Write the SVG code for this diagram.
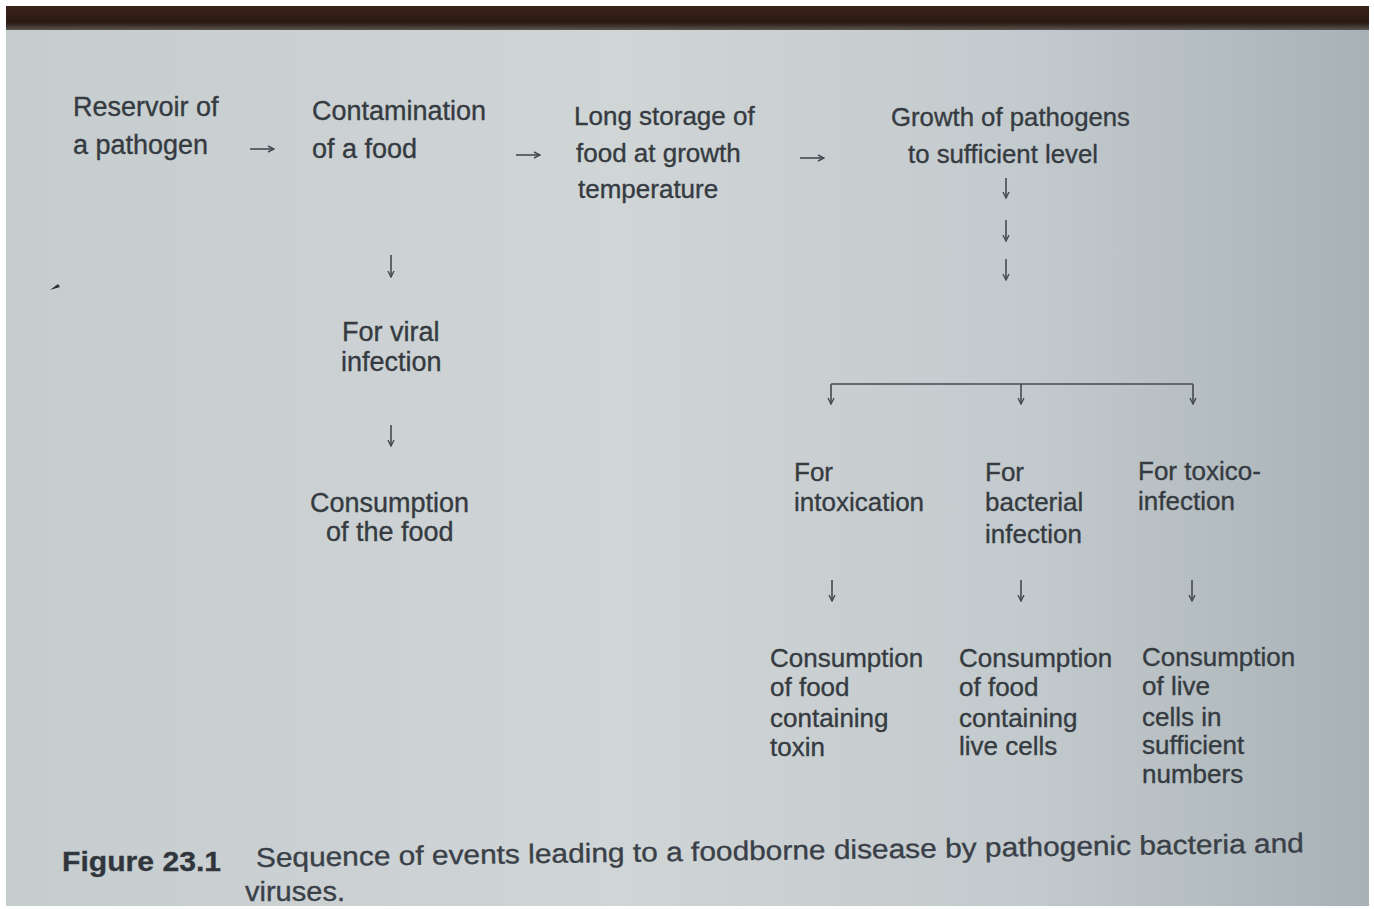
<svg xmlns="http://www.w3.org/2000/svg" width="1374" height="909" viewBox="0 0 1374 909">
<defs>
<linearGradient id="bg" x1="0" y1="0" x2="1" y2="0">
<stop offset="0" stop-color="#c6cdcf"/>
<stop offset="0.45" stop-color="#d0d5d6"/>
<stop offset="0.75" stop-color="#c3cacd"/>
<stop offset="1" stop-color="#a8b2b6"/>
</linearGradient>
<linearGradient id="top" x1="0" y1="0" x2="0" y2="1">
<stop offset="0" stop-color="#3a2218"/>
<stop offset="0.7" stop-color="#2a1a14"/>
<stop offset="1" stop-color="#5a5550"/>
</linearGradient>
<marker id="ah" markerWidth="8" markerHeight="8" refX="7" refY="4" orient="auto" markerUnits="userSpaceOnUse">
<path d="M1,1 L7,4 L1,7" fill="none" stroke="#444a50" stroke-width="1.4"/>
</marker>
<style>
text{font-family:"Liberation Sans",Arial,sans-serif;font-size:27px;fill:#353b41;stroke:#353b41;stroke-width:0.35;}
.r{font-size:26px;}
.cap{font-size:27px;fill:#3a4048;stroke:#3a4048;}
.fig{font-size:28px;font-weight:bold;fill:#30363c;}
.c{stroke:#444a50;stroke-width:1.6;fill:none;}
.a{stroke:#444a50;stroke-width:1.6;fill:none;marker-end:url(#ah);}
</style>
</defs>
<rect width="1374" height="909" fill="#ffffff"/>
<rect x="6" y="6" width="1363" height="900" fill="url(#bg)"/>
<rect x="6" y="6" width="1363" height="24" fill="url(#top)"/>
<path d="M50,290 L58,284 L60,287 Z" fill="#30302c"/>

<g id="n-reservoir"><text x="73" y="116">Reservoir of</text><text x="73" y="154">a pathogen</text></g>
<g id="n-contamination"><text x="312" y="120">Contamination</text><text x="312" y="158">of a food</text></g>
<g id="n-storage"><text class="r" x="574" y="125">Long storage of</text><text class="r" x="576" y="162">food at growth</text><text class="r" x="578" y="198">temperature</text></g>
<g id="n-growth"><text class="r" x="891" y="126" textLength="239" lengthAdjust="spacingAndGlyphs">Growth of pathogens</text><text class="r" x="908" y="163" textLength="190" lengthAdjust="spacingAndGlyphs">to sufficient level</text></g>
<g id="n-viral"><text x="342" y="341">For viral</text><text x="341" y="371">infection</text></g>
<g id="n-consume-viral"><text x="310" y="512">Consumption</text><text x="326" y="541">of the food</text></g>
<g id="n-intox"><text class="r" x="794" y="481">For</text><text class="r" x="794" y="511">intoxication</text></g>
<g id="n-bact"><text class="r" x="985" y="481">For</text><text class="r" x="985" y="511">bacterial</text><text class="r" x="985" y="543">infection</text></g>
<g id="n-toxico"><text class="r" x="1138" y="480">For toxico-</text><text class="r" x="1138" y="510">infection</text></g>
<g id="n-consume-toxin"><text class="r" x="770" y="667">Consumption</text><text class="r" x="770" y="696">of food</text><text class="r" x="770" y="727">containing</text><text class="r" x="770" y="756">toxin</text></g>
<g id="n-consume-live"><text class="r" x="959" y="667">Consumption</text><text class="r" x="959" y="696">of food</text><text class="r" x="959" y="727">containing</text><text class="r" x="959" y="755">live cells</text></g>
<g id="n-consume-numbers"><text class="r" x="1142" y="666">Consumption</text><text class="r" x="1142" y="695">of live</text><text class="r" x="1142" y="726">cells in</text><text class="r" x="1142" y="754">sufficient</text><text class="r" x="1142" y="783">numbers</text></g>

<g id="connectors">
<path class="a" d="M250,149 H274"/>
<path class="a" d="M516,155 H540"/>
<path class="a" d="M800,158 H824"/>
<path class="a" d="M1006,178 V198"/>
<path class="a" d="M1006,220 V241"/>
<path class="a" d="M1006,259 V280"/>
<path class="a" d="M391,255 V277"/>
<path class="a" d="M391,425 V446"/>
<path class="c" d="M831,384 H1193"/>
<path class="a" d="M831,384 V404"/>
<path class="a" d="M1021,384 V404"/>
<path class="a" d="M1193,384 V404"/>
<path class="a" d="M832,580 V601"/>
<path class="a" d="M1021,580 V601"/>
<path class="a" d="M1192,580 V601"/>
</g>

<g id="caption">
<text class="fig" x="62" y="871" textLength="159" lengthAdjust="spacingAndGlyphs">Figure 23.1</text>
<text class="cap" x="256" y="867" textLength="1048" lengthAdjust="spacingAndGlyphs" transform="rotate(-0.8 256 867)">Sequence of events leading to a foodborne disease by pathogenic bacteria and</text>
<text class="cap" x="245" y="901" textLength="100" lengthAdjust="spacingAndGlyphs">viruses.</text>
</g>
</svg>
